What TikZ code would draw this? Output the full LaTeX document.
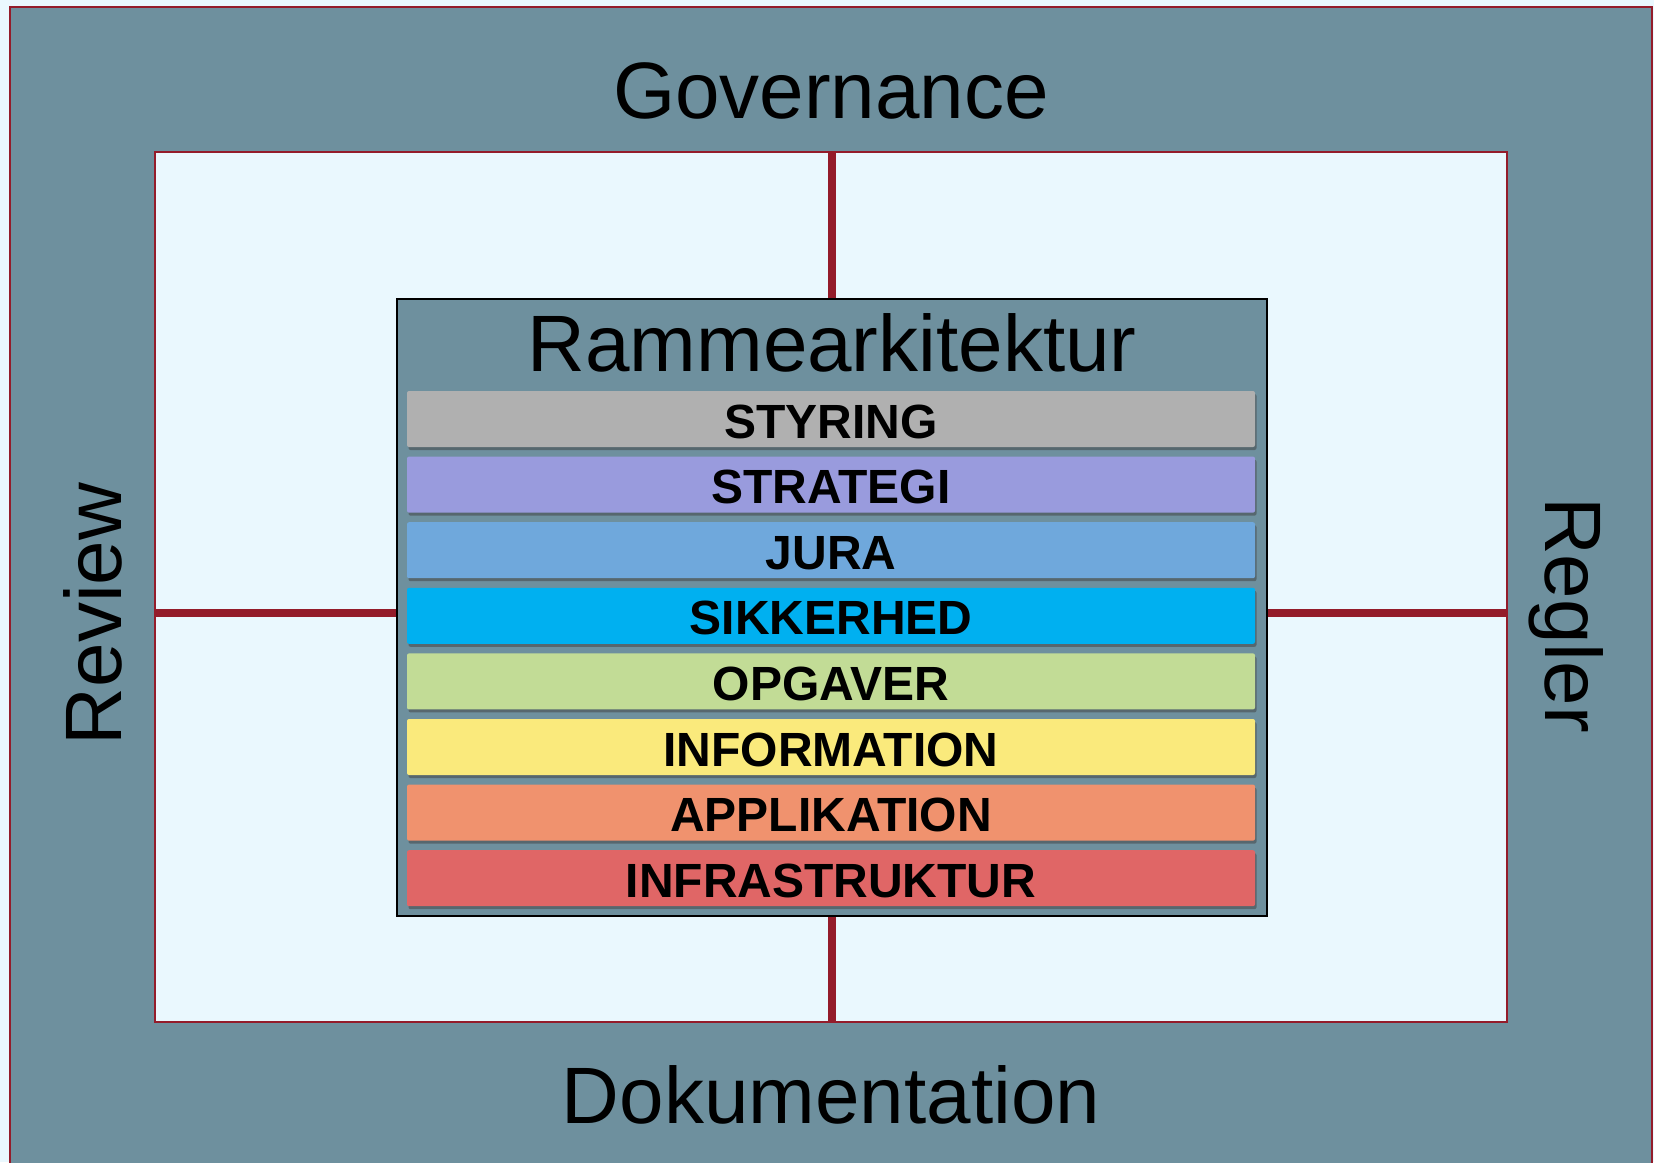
\documentclass[tikz,border=0pt]{standalone}
\usepackage{fontspec}
\setmainfont{Liberation Sans}
\usetikzlibrary{positioning,shadows}
\definecolor{paper}{HTML}{EAF8FE}
\definecolor{slate}{HTML}{6E909E}
\definecolor{wine}{HTML}{941C2A}
\definecolor{cStyring}{HTML}{B0B0B0}
\definecolor{cStrategi}{HTML}{999BDD}
\definecolor{cJura}{HTML}{6FA8DC}
\definecolor{cSikkerhed}{HTML}{00B0F0}
\definecolor{cOpgaver}{HTML}{C2DC96}
\definecolor{cInformation}{HTML}{FAEA7C}
\definecolor{cApplikation}{HTML}{F0926E}
\definecolor{cInfra}{HTML}{E06666}
\begin{document}
\begin{tikzpicture}[
    x=1pt, y=-1pt,
    node distance=65.6pt,
    title/.style={font=\fontsize{80}{90}\selectfont, inner sep=0pt, anchor=base},
    field/.style={rectangle, draw=wine, line width=1.5pt, fill=paper, minimum width=1352pt, minimum height=870pt},
    frame/.style={rectangle, draw=black, line width=1.5pt, fill=slate, minimum width=870pt, minimum height=617pt},
    layer/.style={rectangle, rounded corners=2pt, minimum width=848pt, minimum height=56pt, inner sep=0pt,
        text height=38pt, text depth=0pt, font=\fontsize{48}{50}\selectfont\bfseries,
        drop shadow={shadow xshift=1.5pt, shadow yshift=-3pt, opacity=0.5, fill=black!75}},
    link/.style={draw=wine, line width=7.5pt}]
    \useasboundingbox (0,0) rectangle (1654,1162);
    \fill[paper] (0,0) rectangle (1654,1162);
    \draw[wine, line width=2pt, fill=slate] (10,7) rectangle (1652,1175);
    % labels round the edge
    \node[title] (governance) at (831,118) {Governance};
    \node[title] (dokumentation) at (831,1123) {Dokumentation};
    \node[title, rotate=90] (review) at (121,614) {Review};
    \node[title, rotate=-90] (regler) at (1545,615) {Regler};
    % field and framework
    \node[field] (inner) at (831,587) {};
    \node[frame] (ramme) at (832,607.5) {};
    \node[title] (rammetitle) at (832,371) {Rammearkitektur};
    % layers
    \node[layer, fill=cStyring] (styring) at (831,419) {STYRING};
    \node[layer, fill=cStrategi, below of = styring] (strategi) {STRATEGI};
    \node[layer, fill=cJura, below of = strategi] (jura) {JURA};
    \node[layer, fill=cSikkerhed, below of = jura] (sikkerhed) {SIKKERHED};
    \node[layer, fill=cOpgaver, below of = sikkerhed] (opgaver) {OPGAVER};
    \node[layer, fill=cInformation, below of = opgaver] (information) {INFORMATION};
    \node[layer, fill=cApplikation, below of = information] (applikation) {APPLIKATION};
    \node[layer, fill=cInfra, below of = applikation] (infrastruktur) {INFRASTRUKTUR};
    % cross lines
    \coordinate (mid) at (832,613);
    \path[link] (ramme.north) -- (inner.north -| ramme.north);
    \path[link] (ramme.south) -- (inner.south -| ramme.south);
    \path[link] (mid -| ramme.west) -- (mid -| inner.west);
    \path[link] (mid -| ramme.east) -- (mid -| inner.east);
\end{tikzpicture}
\end{document}
